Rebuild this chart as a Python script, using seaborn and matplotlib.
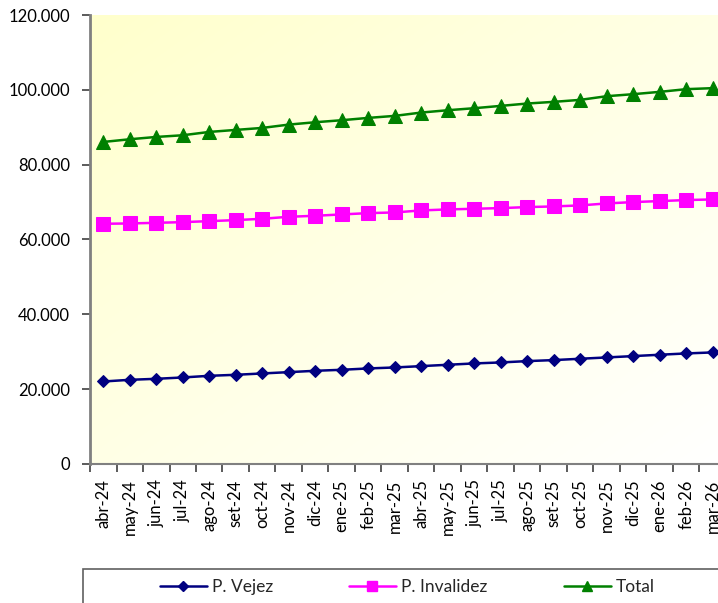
import numpy as np
import pandas as pd
import matplotlib
matplotlib.use("Agg")
import matplotlib.pyplot as plt
from matplotlib.ticker import FuncFormatter, FixedLocator
from matplotlib.patches import Rectangle
from matplotlib.lines import Line2D
import seaborn as sns

#------1.Data------
meses = ["abr-24", "may-24", "jun-24", "jul-24", "ago-24", "set-24", "oct-24", "nov-24",
         "dic-24", "ene-25", "feb-25", "mar-25", "abr-25", "may-25", "jun-25", "jul-25",
         "ago-25", "set-25", "oct-25", "nov-25", "dic-25", "ene-26", "feb-26", "mar-26"]

vejez = [22050, 22500, 22770, 23130, 23570, 23840, 24200, 24550, 24910, 25180, 25540, 25800,
         26160, 26520, 26880, 27140, 27500, 27770, 28130, 28480, 28840, 29200, 29550, 29820]

invalidez = [64200, 64290, 64460, 64640, 64910, 65180, 65540, 66070, 66340, 66700, 67050, 67230,
             67770, 68040, 68210, 68390, 68660, 68840, 69110, 69640, 70000, 70270, 70540, 70710]

total = [86070, 86790, 87410, 87860, 88750, 89290, 89820, 90710, 91340, 91880, 92500, 93040,
         93930, 94550, 95090, 95710, 96340, 96790, 97320, 98300, 98840, 99460, 100180, 100450]

series = ["P. Vejez", "P. Invalidez", "Total"]
colores = {"P. Vejez": "#000080", "P. Invalidez": "#FF00FF", "Total": "#008000"}
marcadores = {"P. Vejez": "D", "P. Invalidez": "s", "Total": "^"}
tamanos = {"P. Vejez": 6.5, "P. Invalidez": 9.5, "Total": 9.5}
tamanos_leyenda = {"P. Vejez": 5.1, "P. Invalidez": 7.9, "Total": 7.9}

df = pd.DataFrame({"mes": meses * 3,
                   "valor": vejez + invalidez + total,
                   "serie": ["P. Vejez"] * 24 + ["P. Invalidez"] * 24 + ["Total"] * 24})

#------2.Figure------
sns.set_style("white")
plt.rcParams['font.family'] = ['Lato', 'DejaVu Sans']

fig = plt.figure(figsize=(7.18, 6.03), dpi=100)
W, H = 718, 603
ax = fig.add_axes([90 / W, (603 - 464) / H, 636 / W, 449 / H])

# light yellow (top-left) -> white (bottom-right) background
gx, gy = np.meshgrid(np.linspace(0, 1, 200), np.linspace(0, 1, 200))
t = np.clip((gx + gy) / 2, 0, 1)
c0 = np.array([1.0, 1.0, 0.80])
c1 = np.array([1.0, 1.0, 1.0])
img = c0[None, None, :] * (1 - t[..., None]) + c1[None, None, :] * t[..., None]
ax.imshow(img, extent=[0, 1, 0, 1], transform=ax.transAxes, aspect="auto",
          origin="upper", zorder=0)

sns.lineplot(data=df, x="mes", y="valor", hue="serie", style="serie",
             hue_order=series, style_order=series, palette=colores,
             markers=marcadores, dashes=False, linewidth=1.8, legend=False, ax=ax)

for ln, s in zip(ax.lines, series):
    ln.set_markeredgecolor(colores[s])
    ln.set_markerfacecolor(colores[s])
    ln.set_markersize(tamanos[s])
    ln.set_zorder(3)

#------3.Axes------
ax.set_xlim(-0.5, 23.5)
ax.set_ylim(0, 120000)
ax.set_yticks(range(0, 120001, 20000))
ax.yaxis.set_major_formatter(FuncFormatter(lambda v, p: f"{int(v):,}".replace(",", ".")))
ax.set_xlabel("")
ax.set_ylabel("")

ax.set_xticks(range(24))
ax.set_xticklabels(meses, rotation=90)
ax.xaxis.set_minor_locator(FixedLocator(np.arange(-0.5, 24, 1)))
ax.tick_params(axis="x", which="major", length=0, pad=11, labelsize=12, colors="black")
ax.tick_params(axis="x", which="minor", length=6, width=1.2, color="#404040", bottom=True)
ax.tick_params(axis="y", length=6, width=1.2, color="#404040", labelsize=12,
               labelcolor="black", left=True, pad=8.5)

for s in ["top", "right"]:
    ax.spines[s].set_visible(False)
ax.spines["left"].set_color("#808080")
ax.spines["left"].set_linewidth(2)
ax.spines["bottom"].set_color("#808080")
ax.spines["bottom"].set_linewidth(1.5)

#------4.Legend------
fig.patches.append(Rectangle((83 / W, -0.1), 0.99, (603 - 569) / H + 0.1,
                             transform=fig.transFigure, fill=False,
                             edgecolor="#606060", linewidth=1.2))
inicios = {"P. Vejez": 160, "P. Invalidez": 349, "Total": 564}
for s in series:
    h = Line2D([], [], color=colores[s], marker=marcadores[s], linewidth=1.8,
               markersize=tamanos_leyenda[s])
    fig.legend(handles=[h], labels=[s], loc="center left", frameon=False,
               bbox_to_anchor=(inicios[s] / W, 1 - 587 / H), fontsize=12.5,
               handlelength=2.7, handletextpad=0.3, borderpad=0, borderaxespad=0)

fig.savefig("out.png", dpi=100)
